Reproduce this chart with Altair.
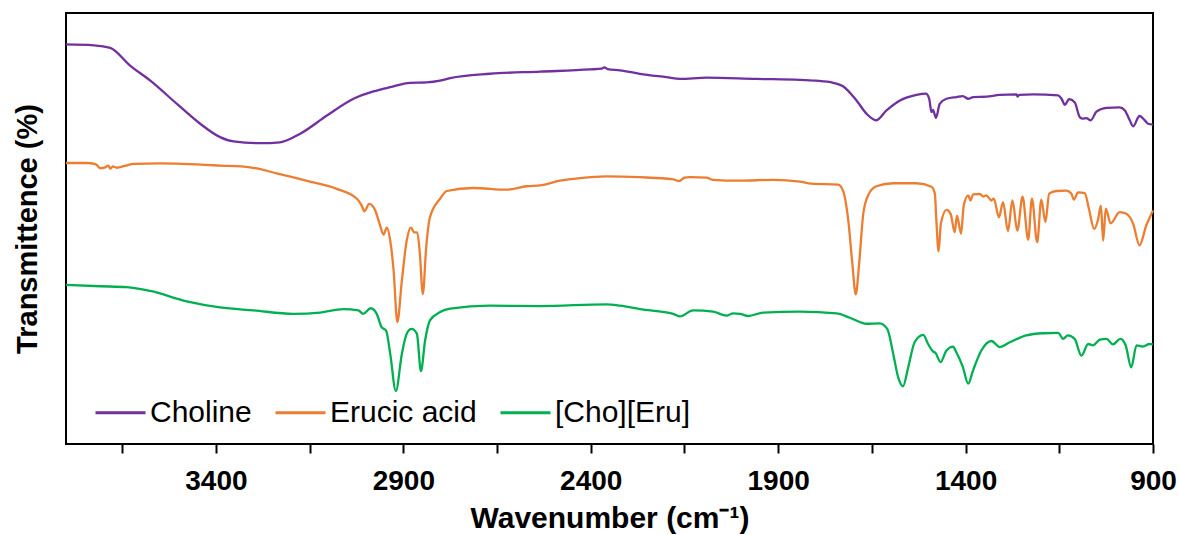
import altair as alt
import pandas as pd

series_names = ["Choline", "Erucic acid", "[Cho][Eru]"]
series_colors = ["#7030A0", "#ED7D31", "#00B050"]

choline_wn = [3800, 3726, 3682, 3629, 3575, 3504, 3442, 3389, 3353, 3282, 3229, 3175, 3104, 3033,
              2980, 2935, 2882, 2838, 2802, 2775, 2669, 2535, 2402, 2370, 2364, 2355, 2322, 2269,
              2198, 2162, 2091, 1958, 1842, 1800, 1753, 1727, 1691, 1664, 1639, 1611, 1575, 1531,
              1506, 1497, 1491, 1487, 1479, 1469, 1451, 1424, 1407, 1393, 1380, 1344, 1309, 1264,
              1261, 1257, 1220, 1153, 1144, 1135, 1124, 1109, 1095, 1087, 1078, 1066, 1051, 1024,
              989, 975, 962, 953, 936, 922, 913, 900]
choline_t = [92.7, 92.5, 91.9, 87.8, 84.3, 78.9, 74.3, 71.2, 70.2, 69.8, 70.0, 72.0, 76.2, 80.1,
             81.8, 82.8, 83.8, 83.9, 84.3, 84.9, 85.9, 86.4, 86.9, 87.1, 87.4, 87.0, 86.7, 85.9,
             85.1, 84.7, 85.0, 84.7, 84.5, 84.3, 83.8, 83.0, 79.7, 76.6, 75.1, 77.4, 79.7, 81.0,
             81.3, 80.1, 77.0, 77.5, 75.7, 78.9, 80.1, 80.5, 80.7, 80.1, 80.5, 80.6, 81.0, 81.1,
             80.6, 81.0, 81.1, 80.9, 80.1, 78.7, 80.0, 79.3, 75.8, 75.5, 75.6, 75.1, 77.1, 78.0,
             78.1, 77.4, 75.1, 73.7, 76.1, 75.1, 74.3, 74.1]

erucic_wn = [3800, 3744, 3720, 3709, 3695, 3687, 3682, 3675, 3665, 3640, 3620, 3549, 3389, 3309,
             3238, 3149, 3078, 3024, 3011, 3004, 2991, 2975, 2962, 2953, 2944, 2935, 2926, 2916,
             2904, 2891, 2880, 2871, 2863, 2856, 2848, 2839, 2829, 2802, 2784, 2713, 2624, 2571,
             2535, 2482, 2429, 2358, 2269, 2180, 2164, 2150, 2135, 2091, 2075, 2002, 1913, 1842,
             1811, 1740, 1727, 1713, 1702, 1693, 1684, 1673, 1660, 1638, 1593, 1531, 1491, 1482,
             1478, 1472, 1466, 1451, 1440, 1429, 1423, 1412, 1405, 1393, 1387, 1380, 1362, 1353,
             1345, 1331, 1325, 1311, 1300, 1287, 1275, 1262, 1248, 1233, 1223, 1209, 1198, 1187,
             1177, 1158, 1131, 1118, 1111, 1100, 1082, 1071, 1057, 1047, 1039, 1033, 1026, 1013,
             989, 971, 953, 936, 918, 900]
erucic_t = [65.2, 65.2, 64.9, 64.0, 64.2, 64.6, 63.9, 64.4, 64.1, 64.6, 65.0, 65.1, 64.6, 64.2,
            62.8, 60.9, 59.2, 56.9, 55.3, 54.0, 55.7, 54.2, 50.7, 48.6, 50.2, 47.2, 40.3, 28.3,
            37.9, 47.2, 50.2, 49.1, 49.1, 44.2, 34.8, 45.7, 52.6, 56.9, 58.7, 59.4, 59.0, 59.8,
            60.0, 61.1, 61.7, 62.1, 61.9, 61.4, 61.0, 61.8, 61.9, 61.8, 61.3, 61.1, 61.3, 60.9,
            60.4, 60.2, 58.8, 51.9, 41.8, 34.7, 41.8, 53.4, 57.7, 59.8, 60.5, 60.5, 59.7, 58.1,
            51.9, 44.7, 51.1, 54.3, 53.4, 49.1, 53.0, 48.8, 55.3, 57.7, 56.5, 57.9, 58.0, 57.4,
            57.7, 56.5, 57.0, 52.6, 56.1, 49.4, 56.5, 49.5, 57.4, 47.4, 56.9, 46.8, 56.7, 51.5,
            58.1, 58.7, 58.8, 58.1, 56.7, 58.4, 58.2, 54.6, 49.9, 51.9, 55.3, 47.2, 54.6, 51.2,
            53.8, 53.4, 51.1, 46.1, 50.7, 54.2]

choeru_wn = [3800, 3709, 3638, 3575, 3478, 3389, 3300, 3193, 3122, 3060, 3020, 3007, 2987, 2971,
             2958, 2946, 2935, 2920, 2904, 2891, 2878, 2864, 2853, 2842, 2829, 2802, 2775, 2669,
             2535, 2358, 2322, 2269, 2180, 2162, 2127, 2073, 2038, 2020, 2002, 1980, 1940, 1842,
             1744, 1709, 1664, 1629, 1609, 1593, 1580, 1567, 1553, 1536, 1513, 1500, 1487, 1480,
             1467, 1451, 1433, 1427, 1407, 1393, 1380, 1358, 1331, 1309, 1282, 1238, 1193, 1153,
             1140, 1127, 1109, 1091, 1073, 1060, 1042, 1024, 1007, 987, 973, 958, 944, 927, 909, 900]
choeru_t = [36.9, 36.6, 36.4, 35.5, 33.1, 31.7, 31.0, 30.2, 30.5, 31.3, 31.0, 30.2, 31.5, 30.2,
            27.1, 26.3, 20.9, 12.3, 20.9, 25.6, 26.7, 25.6, 16.9, 24.0, 28.7, 30.6, 31.4, 32.1,
            32.0, 32.4, 32.1, 31.3, 30.2, 29.6, 31.0, 30.7, 29.8, 30.3, 30.2, 29.7, 30.5, 30.7,
            30.3, 29.3, 27.9, 28.0, 26.7, 20.9, 15.5, 13.4, 17.8, 23.6, 25.3, 23.2, 21.5, 21.1,
            19.0, 21.7, 22.6, 21.7, 17.8, 14.0, 17.1, 21.7, 23.9, 22.5, 23.6, 25.2, 25.7, 25.8,
            24.4, 25.2, 24.4, 20.5, 23.2, 22.9, 24.2, 24.4, 23.1, 24.4, 22.9, 17.8, 22.9, 22.6, 23.2, 23.1]

x_ticks = [3650, 3400, 3150, 2900, 2650, 2400, 2150, 1900, 1650, 1400, 1150, 900]

frames = []
for name, wn, t in zip(series_names, [choline_wn, erucic_wn, choeru_wn],
                       [choline_t, erucic_t, choeru_t]):
    frames.append(pd.DataFrame({"wn": wn, "t": t, "series": name}))
df = pd.concat(frames, ignore_index=True)

FONT = "Liberation Sans, Arial, sans-serif"

chart = alt.Chart(df).mark_line(strokeWidth=2.3, interpolate="monotone").encode(
    x=alt.X("wn:Q",
            scale=alt.Scale(domain=[900, 3800], reverse=True, nice=False, zero=False),
            axis=alt.Axis(values=x_ticks, format="d",
                          labelExpr="(datum.value - 900) % 500 === 0 ? datum.label : ''",
                          title="Wavenumber (cm⁻¹)", grid=False, domain=False,
                          tickColor="black", tickWidth=2, tickSize=9,
                          labelFont=FONT, labelFontSize=28, labelFontWeight="bold",
                          labelColor="black", labelPadding=14, labelFlush=False,
                          titleFont=FONT, titleFontSize=30, titleFontWeight="bold",
                          titleColor="black", titleBaseline="alphabetic", titleY=83)),
    y=alt.Y("t:Q", scale=alt.Scale(domain=[0, 100], nice=False),
            axis=alt.Axis(labels=False, ticks=False, grid=False, domain=False,
                          title="Transmittence (%)",
                          titleFont=FONT, titleFontSize=29, titleFontWeight="bold",
                          titleColor="black", titleBaseline="alphabetic",
                          titleX=-30, titleY=215.5, titleAngle=270)),
    color=alt.Color("series:N",
                    scale=alt.Scale(domain=series_names, range=series_colors),
                    legend=alt.Legend(orient="none", direction="horizontal", title=None,
                                      legendX=28, legendY=373, symbolType="stroke",
                                      symbolSize=2500, symbolStrokeWidth=3,
                                      labelFont=FONT, labelFontSize=30, labelColor="black",
                                      labelOffset=3, columnPadding=17, padding=0,
                                      labelLimit=400)),
).properties(
    width=1087, height=431,
    autosize=alt.AutoSizeParams(type="none"),
    padding={"left": 66, "top": 13, "right": 26, "bottom": 91},
).configure_view(stroke="black", strokeWidth=2)

chart.save("out.html", embed_options={"renderer": "svg", "actions": False})
